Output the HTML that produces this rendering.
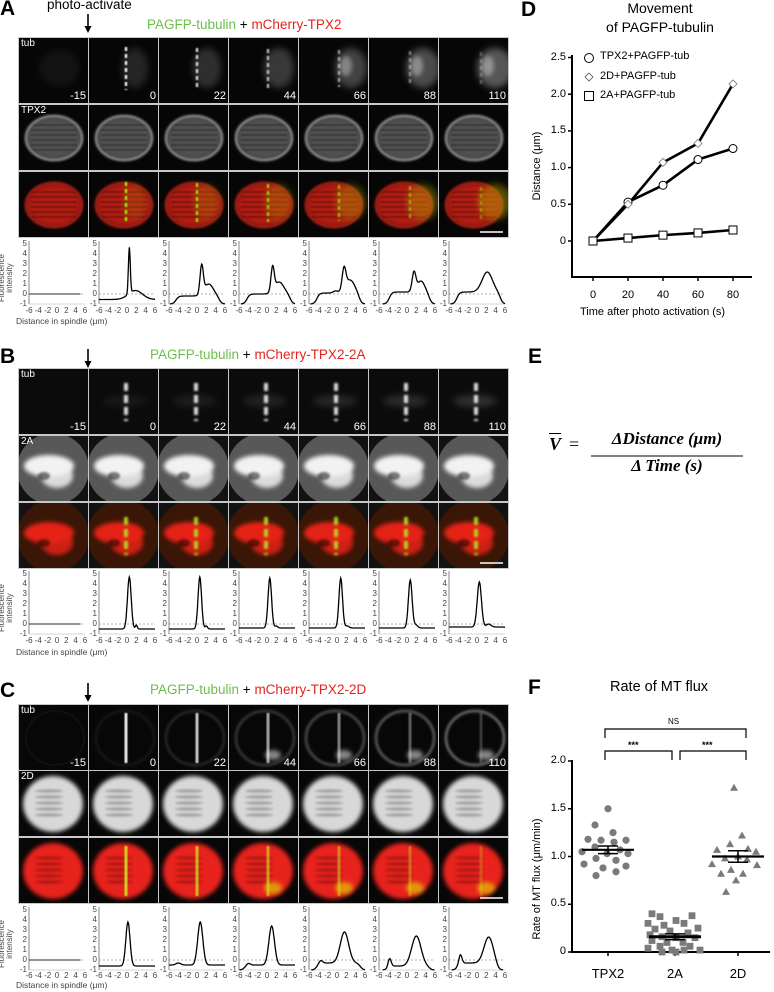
<!DOCTYPE html>
<html><head><meta charset="utf-8">
<style>
*{margin:0;padding:0;box-sizing:border-box}
body{width:774px;height:992px;background:#fff;position:relative;overflow:hidden;font-family:"Liberation Sans",sans-serif;color:#000}
.t{position:absolute;white-space:nowrap}
.yl{position:absolute;width:8px;text-align:right;font-size:8px;line-height:10px;color:#444}
.xl{position:absolute;width:64px;display:flex;justify-content:space-between;font-size:8px;color:#444;line-height:9px}
.xl span{width:8px;text-align:center;display:block}
.ds{position:absolute;left:16px;font-size:8.5px;color:#444}
.fi{position:absolute;left:-22px;width:56px;font-size:8px;line-height:8px;text-align:center;color:#444;transform:rotate(-90deg)}
.cl{position:absolute;font-size:10px;color:#fff}
.tm{position:absolute;font-size:11px;color:#fff;width:30px;text-align:right}
.big{position:absolute;font-size:21px;font-weight:bold}
.ttl{position:absolute;font-size:13.5px;white-space:nowrap}
.g{color:#6cbf4c}.r{color:#e3241c}
svg#g{position:absolute;left:0;top:0}
</style></head><body>
<svg id="g" width="774" height="992" xmlns="http://www.w3.org/2000/svg"></svg>

<div class="big" style="left:0;top:-3px">A</div>
<div class="t" style="left:47px;top:-3px;font-size:13.5px">photo-activate</div>
<div class="ttl" style="left:147px;top:17px"><span class="g">PAGFP-tubulin</span> + <span class="r">mCherry-TPX2</span></div>
<div class="big" style="left:0;top:345px">B</div>
<div class="ttl" style="left:150px;top:347px"><span class="g">PAGFP-tubulin</span> + <span class="r">mCherry-TPX2-2A</span></div>
<div class="big" style="left:0;top:679px">C</div>
<div class="ttl" style="left:150px;top:682px"><span class="g">PAGFP-tubulin</span> + <span class="r">mCherry-TPX2-2D</span></div>

<div class="fi" style="top:270px">Fluorescence<br>intensity</div>
<div class="ds" style="top:316px">Distance in spindle (μm)</div>
<div class="yl" style="left:19px;top:239px">5<br>4<br>3<br>2<br>1<br>0<br>-1</div><div class="xl" style="left:25px;top:306px"><span>-6</span><span>-4</span><span>-2</span><span>0</span><span>2</span><span>4</span><span>6</span></div>
<div class="yl" style="left:89px;top:239px">5<br>4<br>3<br>2<br>1<br>0<br>-1</div><div class="xl" style="left:95px;top:306px"><span>-6</span><span>-4</span><span>-2</span><span>0</span><span>2</span><span>4</span><span>6</span></div>
<div class="yl" style="left:159px;top:239px">5<br>4<br>3<br>2<br>1<br>0<br>-1</div><div class="xl" style="left:165px;top:306px"><span>-6</span><span>-4</span><span>-2</span><span>0</span><span>2</span><span>4</span><span>6</span></div>
<div class="yl" style="left:229px;top:239px">5<br>4<br>3<br>2<br>1<br>0<br>-1</div><div class="xl" style="left:235px;top:306px"><span>-6</span><span>-4</span><span>-2</span><span>0</span><span>2</span><span>4</span><span>6</span></div>
<div class="yl" style="left:299px;top:239px">5<br>4<br>3<br>2<br>1<br>0<br>-1</div><div class="xl" style="left:305px;top:306px"><span>-6</span><span>-4</span><span>-2</span><span>0</span><span>2</span><span>4</span><span>6</span></div>
<div class="yl" style="left:369px;top:239px">5<br>4<br>3<br>2<br>1<br>0<br>-1</div><div class="xl" style="left:375px;top:306px"><span>-6</span><span>-4</span><span>-2</span><span>0</span><span>2</span><span>4</span><span>6</span></div>
<div class="yl" style="left:439px;top:239px">5<br>4<br>3<br>2<br>1<br>0<br>-1</div><div class="xl" style="left:445px;top:306px"><span>-6</span><span>-4</span><span>-2</span><span>0</span><span>2</span><span>4</span><span>6</span></div>
<div class="fi" style="top:600px">Fluorescence<br>intensity</div>
<div class="ds" style="top:647px">Distance in spindle (μm)</div>
<div class="yl" style="left:19px;top:569px">5<br>4<br>3<br>2<br>1<br>0<br>-1</div><div class="xl" style="left:25px;top:636px"><span>-6</span><span>-4</span><span>-2</span><span>0</span><span>2</span><span>4</span><span>6</span></div>
<div class="yl" style="left:89px;top:569px">5<br>4<br>3<br>2<br>1<br>0<br>-1</div><div class="xl" style="left:95px;top:636px"><span>-6</span><span>-4</span><span>-2</span><span>0</span><span>2</span><span>4</span><span>6</span></div>
<div class="yl" style="left:159px;top:569px">5<br>4<br>3<br>2<br>1<br>0<br>-1</div><div class="xl" style="left:165px;top:636px"><span>-6</span><span>-4</span><span>-2</span><span>0</span><span>2</span><span>4</span><span>6</span></div>
<div class="yl" style="left:229px;top:569px">5<br>4<br>3<br>2<br>1<br>0<br>-1</div><div class="xl" style="left:235px;top:636px"><span>-6</span><span>-4</span><span>-2</span><span>0</span><span>2</span><span>4</span><span>6</span></div>
<div class="yl" style="left:299px;top:569px">5<br>4<br>3<br>2<br>1<br>0<br>-1</div><div class="xl" style="left:305px;top:636px"><span>-6</span><span>-4</span><span>-2</span><span>0</span><span>2</span><span>4</span><span>6</span></div>
<div class="yl" style="left:369px;top:569px">5<br>4<br>3<br>2<br>1<br>0<br>-1</div><div class="xl" style="left:375px;top:636px"><span>-6</span><span>-4</span><span>-2</span><span>0</span><span>2</span><span>4</span><span>6</span></div>
<div class="yl" style="left:439px;top:569px">5<br>4<br>3<br>2<br>1<br>0<br>-1</div><div class="xl" style="left:445px;top:636px"><span>-6</span><span>-4</span><span>-2</span><span>0</span><span>2</span><span>4</span><span>6</span></div>
<div class="fi" style="top:936px">Fluorescence<br>intensity</div>
<div class="ds" style="top:980px">Distance in spindle (μm)</div>
<div class="yl" style="left:19px;top:905px">5<br>4<br>3<br>2<br>1<br>0<br>-1</div><div class="xl" style="left:25px;top:971px"><span>-6</span><span>-4</span><span>-2</span><span>0</span><span>2</span><span>4</span><span>6</span></div>
<div class="yl" style="left:89px;top:905px">5<br>4<br>3<br>2<br>1<br>0<br>-1</div><div class="xl" style="left:95px;top:971px"><span>-6</span><span>-4</span><span>-2</span><span>0</span><span>2</span><span>4</span><span>6</span></div>
<div class="yl" style="left:159px;top:905px">5<br>4<br>3<br>2<br>1<br>0<br>-1</div><div class="xl" style="left:165px;top:971px"><span>-6</span><span>-4</span><span>-2</span><span>0</span><span>2</span><span>4</span><span>6</span></div>
<div class="yl" style="left:229px;top:905px">5<br>4<br>3<br>2<br>1<br>0<br>-1</div><div class="xl" style="left:235px;top:971px"><span>-6</span><span>-4</span><span>-2</span><span>0</span><span>2</span><span>4</span><span>6</span></div>
<div class="yl" style="left:299px;top:905px">5<br>4<br>3<br>2<br>1<br>0<br>-1</div><div class="xl" style="left:305px;top:971px"><span>-6</span><span>-4</span><span>-2</span><span>0</span><span>2</span><span>4</span><span>6</span></div>
<div class="yl" style="left:369px;top:905px">5<br>4<br>3<br>2<br>1<br>0<br>-1</div><div class="xl" style="left:375px;top:971px"><span>-6</span><span>-4</span><span>-2</span><span>0</span><span>2</span><span>4</span><span>6</span></div>
<div class="yl" style="left:439px;top:905px">5<br>4<br>3<br>2<br>1<br>0<br>-1</div><div class="xl" style="left:445px;top:971px"><span>-6</span><span>-4</span><span>-2</span><span>0</span><span>2</span><span>4</span><span>6</span></div>

<div class="big" style="left:521px;top:-2px">D</div>
<div class="t" style="left:580px;top:-1px;width:160px;text-align:center;font-size:14px;line-height:19px">Movement<br>of PAGFP-tubulin</div>
<div class="t" style="left:600px;top:50px;font-size:11px">TPX2+PAGFP-tub</div>
<div class="t" style="left:600px;top:70px;font-size:11px">2D+PAGFP-tub</div>
<div class="t" style="left:600px;top:89px;font-size:11px">2A+PAGFP-tub</div>
<div class="t" style="left:540px;top:51px;width:26px;text-align:right;font-size:11px">2.5</div>
<div class="t" style="left:540px;top:88px;width:26px;text-align:right;font-size:11px">2.0</div>
<div class="t" style="left:540px;top:124px;width:26px;text-align:right;font-size:11px">1.5</div>
<div class="t" style="left:540px;top:161px;width:26px;text-align:right;font-size:11px">1.0</div>
<div class="t" style="left:540px;top:198px;width:26px;text-align:right;font-size:11px">0.5</div>
<div class="t" style="left:540px;top:235px;width:26px;text-align:right;font-size:11px">0</div>
<div class="t" style="left:583px;top:289px;width:20px;text-align:center;font-size:11px">0</div>
<div class="t" style="left:618px;top:289px;width:20px;text-align:center;font-size:11px">20</div>
<div class="t" style="left:653px;top:289px;width:20px;text-align:center;font-size:11px">40</div>
<div class="t" style="left:688px;top:289px;width:20px;text-align:center;font-size:11px">60</div>
<div class="t" style="left:723px;top:289px;width:20px;text-align:center;font-size:11px">80</div>
<div class="t" style="left:580px;top:306px;font-size:11px">Time after photo activation (s)</div>
<div class="t" style="left:487px;top:160px;width:100px;text-align:center;font-size:11px;transform:rotate(-90deg)">Distance (μm)</div>

<div class="big" style="left:528px;top:345px">E</div>
<div class="t" style="left:549px;top:434px;font-family:'Liberation Serif',serif;font-size:18px;font-weight:bold;font-style:italic;text-decoration:overline">V</div>
<div class="t" style="left:569px;top:434px;font-family:'Liberation Serif',serif;font-size:18px">=</div>
<div class="t" style="left:591px;top:429px;width:152px;text-align:center;font-family:'Liberation Serif',serif;font-size:17px;font-weight:bold;font-style:italic">ΔDistance (μm)</div>
<div class="t" style="left:591px;top:456px;width:152px;text-align:center;font-family:'Liberation Serif',serif;font-size:17px;font-weight:bold;font-style:italic">Δ Time (s)</div>

<div class="big" style="left:528px;top:676px">F</div>
<div class="t" style="left:610px;top:679px;font-size:14.5px">Rate of MT flux</div>
<div class="t" style="left:668px;top:717px;font-size:8px">NS</div>
<div class="t" style="left:628px;top:740px;font-size:9px;font-weight:bold">***</div>
<div class="t" style="left:702px;top:740px;font-size:9px;font-weight:bold">***</div>
<div class="t" style="left:540px;top:754px;width:26px;text-align:right;font-size:11px">2.0</div>
<div class="t" style="left:540px;top:802px;width:26px;text-align:right;font-size:11px">1.5</div>
<div class="t" style="left:540px;top:850px;width:26px;text-align:right;font-size:11px">1.0</div>
<div class="t" style="left:540px;top:897px;width:26px;text-align:right;font-size:11px">0.5</div>
<div class="t" style="left:540px;top:945px;width:26px;text-align:right;font-size:11px">0</div>
<div class="t" style="left:588px;top:966px;width:40px;text-align:center;font-size:13px">TPX2</div>
<div class="t" style="left:655px;top:966px;width:40px;text-align:center;font-size:13px">2A</div>
<div class="t" style="left:718px;top:966px;width:40px;text-align:center;font-size:13px">2D</div>
<div class="t" style="left:467px;top:873px;width:140px;text-align:center;font-size:11px;transform:rotate(-90deg)">Rate of MT flux (μm/min)</div>

<div class="cl" style="left:21px;top:38px">tub</div>
<div class="cl" style="left:21px;top:105px">TPX2</div>
<div class="cl" style="left:21px;top:369px">tub</div>
<div class="cl" style="left:21px;top:436px">2A</div>
<div class="cl" style="left:21px;top:705px">tub</div>
<div class="cl" style="left:21px;top:771px">2D</div>
<div class="tm" style="left:56px;top:90px">-15</div><div class="tm" style="left:126px;top:90px">0</div><div class="tm" style="left:196px;top:90px">22</div><div class="tm" style="left:266px;top:90px">44</div><div class="tm" style="left:336px;top:90px">66</div><div class="tm" style="left:406px;top:90px">88</div><div class="tm" style="left:476px;top:90px">110</div>
<div class="tm" style="left:56px;top:421px">-15</div><div class="tm" style="left:126px;top:421px">0</div><div class="tm" style="left:196px;top:421px">22</div><div class="tm" style="left:266px;top:421px">44</div><div class="tm" style="left:336px;top:421px">66</div><div class="tm" style="left:406px;top:421px">88</div><div class="tm" style="left:476px;top:421px">110</div>
<div class="tm" style="left:56px;top:757px">-15</div><div class="tm" style="left:126px;top:757px">0</div><div class="tm" style="left:196px;top:757px">22</div><div class="tm" style="left:266px;top:757px">44</div><div class="tm" style="left:336px;top:757px">66</div><div class="tm" style="left:406px;top:757px">88</div><div class="tm" style="left:476px;top:757px">110</div>

<script>
const S='http://www.w3.org/2000/svg';
const svg=document.getElementById('g');
function el(tag,a,p){const e=document.createElementNS(S,tag);for(const k in a)e.setAttribute(k,a[k]);(p||svg).appendChild(e);return e;}
const defs=el('defs',{});
[['b1',1],['b2',2],['b3',3.5],['b05',0.6]].forEach(function(q){const f=el('filter',{id:q[0],filterUnits:'userSpaceOnUse',x:-30,y:-30,width:130,height:125},defs);el('feGaussianBlur',{stdDeviation:q[1]},f);});
[[88,14,33],[88,349,368],[88,683,702]].forEach(function(q){const x=q[0],y1=q[1],y2=q[2];el('line',{x1:x,y1:y1,x2:x,y2:y2-5,stroke:'#000','stroke-width':1.6});el('path',{d:'M'+(x-3.5)+' '+(y2-7)+' L'+(x+3.5)+' '+(y2-7)+' L'+x+' '+y2+' Z',fill:'#000'});});
const cols=[19,89,159,229,299,369,439];
const rowsY={A:[38,105,172],B:[369,436,503],C:[705,771,838]};
['A','B','C'].forEach(function(P){el('rect',{x:18,y:rowsY[P][0]-1,width:491,height:rowsY[P][2]+66-rowsY[P][0]+1,fill:'#c8c8c8'});});
function cell(P,r,c){
 const x=cols[c],y=rowsY[P][r];
 const s=el('svg',{x:x,y:y,width:69,height:65,viewBox:'0 0 69 65'});
 const t=c-1;
 if(P==='A'){
  el('rect',{width:69,height:65,fill:'#060606'},s);
  if(r===0){ if(c>0){
    el('ellipse',{cx:46+t*2,cy:30,rx:13+t,ry:20,fill:'#fff',opacity:0.12+0.04*t,filter:'url(#b3)'},s);
    el('line',{x1:37+t,y1:9+t,x2:37+t,y2:52-t,stroke:'#fff','stroke-width':2.5,'stroke-dasharray':'4 3',opacity:0.9-0.13*t,filter:'url(#b05)'},s);
    if(t>2) el('ellipse',{cx:44+t,cy:28,rx:6,ry:10,fill:'#fff',opacity:0.35,filter:'url(#b2)'},s);
  } else el('ellipse',{cx:40,cy:30,rx:20,ry:18,fill:'#fff',opacity:0.05,filter:'url(#b3)'},s);}
  else{
   const col=r===1?'#999':'#d82018';
   el('ellipse',{cx:35,cy:33,rx:28,ry:22,fill:col,opacity:r===1?0.5:0.8,filter:'url(#b2)'},s);
   for(let i=0;i<6;i++) el('line',{x1:12,y1:20+i*5,x2:58,y2:20+i*5,stroke:'#000','stroke-width':1.3,opacity:0.35,filter:'url(#b05)'},s);
   el('ellipse',{cx:35,cy:33,rx:28,ry:22,fill:'none',stroke:r===1?'#eee':'#f03020','stroke-width':2,opacity:0.6,filter:'url(#b1)'},s);
   if(r===2&&c>0){
    el('ellipse',{cx:46+t*2,cy:30,rx:12+t,ry:18,fill:'#c8c000',opacity:0.15+0.05*t,filter:'url(#b3)'},s);
    el('line',{x1:37+t,y1:10+t,x2:37+t,y2:52-t,stroke:'#9f0','stroke-width':2.5,'stroke-dasharray':'4 3',opacity:0.9-0.1*t,filter:'url(#b05)'},s);
   }
  }
 } else if(P==='B'){
  el('rect',{width:69,height:65,fill:r===0?'#0b0b0b':'#121212'},s);
  if(r===0){ if(c>0){
    el('ellipse',{cx:36,cy:32,rx:22,ry:6,fill:'#fff',opacity:0.05+0.02*t,filter:'url(#b3)'},s);
    el('line',{x1:37,y1:14,x2:37,y2:52,stroke:'#fff','stroke-width':4,'stroke-dasharray':'8 4',opacity:0.85,filter:'url(#b1)'},s);
  }}
  else{
   el('circle',{cx:34,cy:33,r:36,fill:r===1?'#585858':'#3a1606'},s);
   const col=r===1?'#f2f2f2':'#e52218';
   el('ellipse',{cx:30,cy:30,rx:25,ry:11,fill:col,filter:'url(#b2)'},s);
   el('ellipse',{cx:38,cy:40,rx:16,ry:12,fill:col,opacity:0.85,filter:'url(#b2)'},s);
   el('ellipse',{cx:25,cy:40,rx:6,ry:4,fill:'#000',opacity:0.5,filter:'url(#b1)'},s);
   if(r===2&&c>0) el('line',{x1:37,y1:14,x2:37,y2:52,stroke:'#b0f020','stroke-width':4,'stroke-dasharray':'8 4',opacity:0.85,filter:'url(#b1)'},s);
  }
 } else {
  el('rect',{width:69,height:65,fill:'#070707'},s);
  if(r===0){ 
   if(c>0){
    el('ellipse',{cx:36,cy:33,rx:29,ry:27,fill:'none',stroke:'#fff','stroke-width':3,opacity:0.05+0.06*t,filter:'url(#b1)'},s);
    el('line',{x1:37+t,y1:8,x2:37+t,y2:58,stroke:'#fff','stroke-width':3,opacity:0.9-0.14*t,filter:'url(#b05)'},s);
    if(t>1) el('ellipse',{cx:42+t,cy:50,rx:8,ry:5,fill:'#fff',opacity:0.5,filter:'url(#b2)'},s);
   } else el('ellipse',{cx:36,cy:33,rx:29,ry:27,fill:'none',stroke:'#fff','stroke-width':2,opacity:0.04},s);
  } else {
   const col=r===1?'#d8d8d8':'#e8221a';
   el('ellipse',{cx:34,cy:33,rx:30,ry:28,fill:col,filter:'url(#b2)'},s);
   for(let i=0;i<5;i++) el('ellipse',{cx:30,cy:20+i*6,rx:14,ry:1.6,fill:'#000',opacity:0.25,filter:'url(#b1)'},s);
   if(r===2&&c>0){
    el('line',{x1:37+t,y1:8,x2:37+t,y2:58,stroke:'#d0f020','stroke-width':3,opacity:0.85-0.12*t,filter:'url(#b05)'},s);
    if(t>1) el('ellipse',{cx:42+t,cy:50,rx:9,ry:6,fill:'#e0e000',opacity:0.6,filter:'url(#b2)'},s);
   }
  }
 }
 if(r===2&&c===6) el('line',{x1:41,y1:60,x2:64,y2:60,stroke:'#fff','stroke-width':1.5},s);
}
['A','B','C'].forEach(function(P){for(let r=0;r<3;r++)for(let c=0;c<7;c++)cell(P,r,c);});
function sg(z){return 1/(1+Math.exp(-z));}
const prof={
A:[null,
 {L:-9,R:9,b:-0.55,p:[[4.6,0.5,0.2],[0.9,1.8,1.5]]},
 {L:-4.5,R:4.8,b:-0.2,p:[[2.8,1.0,0.35],[1.2,2.5,1.0]]},
 {L:-4.3,R:5,b:0,p:[[2.4,1.2,0.35],[1.2,2.6,1.0]]},
 {L:-4.3,R:4.8,b:0.1,p:[[2.1,1.5,0.4],[1.3,2.8,1.0],[0.2,-0.3,0.5]]},
 {L:-3.8,R:4.8,b:0.2,p:[[1.9,1.5,0.4],[1.1,3,0.8]]},
 {L:-4.3,R:5,b:0.2,p:[[2.0,2.2,1.1]]}],
B:[null,
 {L:-9,R:9,b:-0.5,p:[[5.2,0.5,0.4],[0.4,2,0.2]]},
 {L:-9,R:9,b:-0.5,p:[[5.2,0.6,0.38],[0.3,2,0.25]]},
 {L:-9,R:9,b:-0.4,p:[[5.0,0.6,0.38],[0.2,2,0.3]]},
 {L:-9,R:9,b:-0.4,p:[[5.0,0.8,0.38],[0.2,2.2,0.4]]},
 {L:-9,R:8,b:-0.4,p:[[4.8,0.7,0.4],[0.3,1.9,0.4]]},
 {L:-9,R:7,b:-0.3,p:[[4.5,0.5,0.45],[0.3,2.5,0.5]]}],
C:[null,
 {L:-9,R:9,b:-0.6,p:[[4.4,0.2,0.45]]},
 {L:-9,R:9,b:-0.5,p:[[4.3,0.7,0.55],[0.2,-4,0.5]]},
 {L:-4.8,R:9,b:-0.5,p:[[3.9,1,0.6],[0.2,-4,0.4]]},
 {L:-4.3,R:5,b:-0.3,p:[[3.1,1.6,0.9],[0.3,-3.5,0.4]]},
 {L:-4.2,R:4.8,b:-0.6,p:[[3.0,2,1.0],[1.0,-3.8,0.35]]},
 {L:-4.2,R:4.4,b:-0.3,p:[[2.6,2.5,1.0],[1.0,-3.6,0.35]]}]};
const gy={A:244,B:574,C:910};
['A','B','C'].forEach(function(P){cols.forEach(function(cx,c){
 const ty=gy[P],ax=cx+10;
 el('line',{x1:ax,y1:ty-3,x2:ax,y2:ty+60,stroke:'#666','stroke-width':0.8});
 el('line',{x1:ax,y1:ty+60,x2:ax+56,y2:ty+60,stroke:'#aaa','stroke-width':0.6});
 el('line',{x1:ax,y1:ty+50,x2:ax+56,y2:ty+50,stroke:'#999','stroke-width':0.8,'stroke-dasharray':'2 2'});
 const X=function(v){return ax+(v+6)*56/12;}, Y=function(v){return ty+50-v*10;};
 const pr=prof[P][c];
 if(!pr){el('line',{x1:X(-6),y1:Y(0),x2:X(5),y2:Y(0),stroke:'#555','stroke-width':1.3});return;}
 let d='';
 for(let v=-6;v<=6.001;v+=0.1){
  const env=sg((v-pr.L)/0.3)*sg((pr.R-v)/0.3);
  let f=-1+(1+pr.b)*env;
  pr.p.forEach(function(q){const z=(v-q[1])/q[2];f+=q[0]*Math.exp(-z*z/2)*env;});
  if(f<-0.99)continue;
  d+=(d?'L':'M')+X(v).toFixed(1)+' '+Y(f).toFixed(1);
 }
 if(d) el('path',{d:d,fill:'none',stroke:'#000','stroke-width':1.3});
});});
(function(){const X=function(t){return 593+t*1.75;},Y=function(v){return 241-v*73.4;};
 el('line',{x1:572,y1:55,x2:572,y2:278,stroke:'#000','stroke-width':2});
 el('line',{x1:571,y1:277,x2:752,y2:277,stroke:'#000','stroke-width':2});
 [0,0.5,1,1.5,2,2.5].forEach(function(v){el('line',{x1:568,y1:Y(v),x2:572,y2:Y(v),stroke:'#000','stroke-width':1.5});});
 [0,20,40,60,80].forEach(function(t){el('line',{x1:X(t),y1:277,x2:X(t),y2:281,stroke:'#000','stroke-width':1.5});});
 const ts=[0,20,40,60,80];
 const s1=[0,0.53,0.76,1.11,1.26],s2=[0,0.5,1.07,1.33,2.14],s3=[0,0.04,0.08,0.11,0.15];
 [s1,s2,s3].forEach(function(s){el('polyline',{points:ts.map(function(t,i){return X(t)+','+Y(s[i]);}).join(' '),fill:'none',stroke:'#000','stroke-width':2.6});});
 ts.forEach(function(t,i){el('circle',{cx:X(t),cy:Y(s1[i]),r:4,fill:'#fff',stroke:'#000','stroke-width':1});});
 ts.forEach(function(t,i){const x=X(t),y=Y(s2[i]);el('path',{d:'M'+x+' '+(y-4)+'L'+(x+4)+' '+y+'L'+x+' '+(y+4)+'L'+(x-4)+' '+y+'Z',fill:'#fff',stroke:'#777','stroke-width':0.8});});
 ts.forEach(function(t,i){el('rect',{x:X(t)-4,y:Y(s3[i])-4,width:8,height:8,fill:'#fff',stroke:'#000','stroke-width':1});});
 el('circle',{cx:589,cy:58,r:4.5,fill:'#fff',stroke:'#000','stroke-width':1});
 el('path',{d:'M589 73L593 77L589 81L585 77Z',fill:'#fff',stroke:'#555','stroke-width':0.8});
 el('rect',{x:584.5,y:91.5,width:9,height:9,fill:'#fff',stroke:'#000','stroke-width':1});
})();
el('line',{x1:591,y1:456,x2:743,y2:456,stroke:'#000','stroke-width':1});
(function(){const Y=function(v){return 952-v*95.5;};
 el('line',{x1:572,y1:760,x2:572,y2:953,stroke:'#000','stroke-width':2});
 el('line',{x1:571,y1:952,x2:770,y2:952,stroke:'#000','stroke-width':2});
 [0,0.5,1,1.5,2].forEach(function(v){el('line',{x1:568,y1:Y(v),x2:572,y2:Y(v),stroke:'#000','stroke-width':1.5});});
 [608,675,738].forEach(function(x){el('line',{x1:x,y1:952,x2:x,y2:956,stroke:'#000','stroke-width':1.5});});
 const br=function(x1,x2,y,h){el('path',{d:'M'+x1+' '+(y+h)+'V'+y+'H'+x2+'V'+(y+h),fill:'none',stroke:'#000','stroke-width':1.2});};
 br(605,746,729,9);br(605,672,751,9);br(680,746,751,9);
 const gc='#7a7a7a';
 [[608,1.5],[595,1.33],[613,1.25],[588,1.18],[601,1.17],[626,1.17],[614,1.15],[595,1.1],[620,1.07],[582,1.05],[607,1.03],[628,1.03],[596,0.98],[616,0.96],[584,0.92],[626,0.9],[603,0.88],[616,0.84],[596,0.8]].forEach(function(q){el('circle',{cx:q[0],cy:Y(q[1]),r:3.6,fill:gc});});
 [[652,0.4],[660,0.37],[692,0.38],[676,0.33],[648,0.3],[664,0.28],[684,0.3],[698,0.25],[655,0.24],[670,0.22],[688,0.2],[650,0.18],[662,0.16],[676,0.15],[695,0.15],[652,0.12],[667,0.1],[683,0.1],[660,0.06],[690,0.06],[648,0.04],[672,0.02],[684,0.02],[700,0.02],[662,0.0],[676,0.0]].forEach(function(q){el('rect',{x:q[0]-3.4,y:Y(q[1])-3.4,width:6.8,height:6.8,fill:gc});});
 [[734,1.72],[742,1.22],[730,1.13],[748,1.08],[717,1.07],[756,1.05],[738,1.0],[725,0.98],[747,0.97],[712,0.92],[757,0.91],[731,0.86],[743,0.82],[721,0.82],[736,0.75],[726,0.63]].forEach(function(q){const x=q[0],y=Y(q[1]);el('path',{d:'M'+x+' '+(y-4)+'L'+(x+4)+' '+(y+3)+'L'+(x-4)+' '+(y+3)+'Z',fill:gc});});
 const mean=function(x,m,se,lw){el('line',{x1:x-26,y1:Y(m),x2:x+26,y2:Y(m),stroke:'#000','stroke-width':lw});
  el('line',{x1:x,y1:Y(m-se),x2:x,y2:Y(m+se),stroke:'#000','stroke-width':1.5});
  [m-se,m+se].forEach(function(v){el('line',{x1:x-10,y1:Y(v),x2:x+10,y2:Y(v),stroke:'#000','stroke-width':1.5});});};
 mean(608,1.07,0.04,2.2);mean(675,0.16,0.03,3);mean(738,1.0,0.06,2.2);
})();
</script>
</body></html>
